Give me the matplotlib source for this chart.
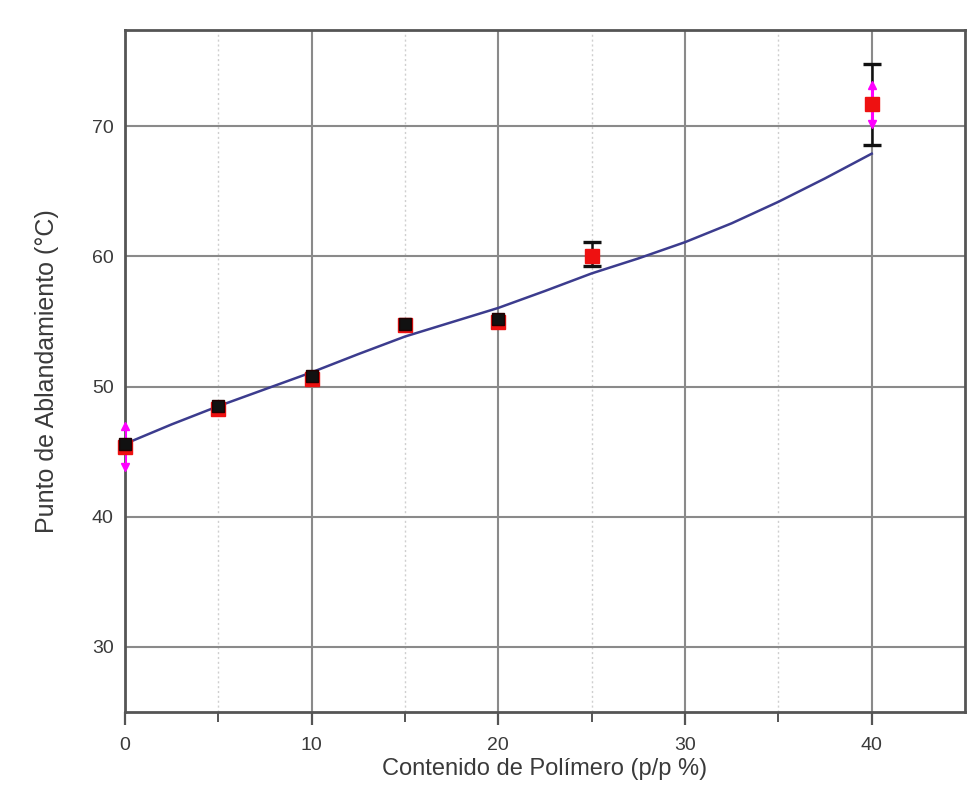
import matplotlib
matplotlib.use("Agg")
import matplotlib.pyplot as plt

plt.rcParams['font.family'] = ['Liberation Sans', 'DejaVu Sans']

# Polymer content (% w/w)
contenido = [0, 5, 10, 15, 20, 25, 40]
# Softening point, series measured with black error bars
punto_negro = [45.6, 48.5, 50.8, 54.8, 55.2, 60.2, 71.7]
error_negro = [0.0, 0.0, 0.0, 0.0, 0.0, 0.9, 3.1]
# Softening point, series with magenta error bars
punto_rojo = [45.4, 48.3, 50.6, 54.7, 55.0, 60.0, 71.7]
error_magenta = [1.6, 0.0, 0.0, 0.0, 0.0, 0.0, 1.5]

# Fitted trend curve
curva_x = [0, 2.5, 5, 7.5, 10, 12.5, 15, 17.5, 20, 22.5, 25, 27.5, 30,
           32.5, 35, 37.5, 40]
curva_y = [45.6, 47.1, 48.5, 49.8, 51.1, 52.5, 53.85, 54.95, 56.05, 57.35,
           58.7, 59.85, 61.1, 62.55, 64.2, 66.0, 67.9]

x_ticks = [0, 10, 20, 30, 40]
y_ticks = [30, 40, 50, 60, 70]

fig = plt.figure(figsize=(9.74, 7.90), dpi=100)
ax = fig.add_axes([0.1283, 0.0987, 0.8625, 0.8633])

ax.set_xlim(0, 45)
ax.set_ylim(25, 77.4)

ax.set_xticks(x_ticks)
ax.set_xticks([5, 15, 25, 35], minor=True)
ax.set_yticks(y_ticks)

ax.grid(True, which='major', color='#8a8a8a', linewidth=1.5, zorder=0)
ax.grid(True, which='minor', axis='x', color='#cfcfcf', linewidth=1.0,
        linestyle=(0, (1.5, 2)), zorder=0)
ax.set_axisbelow(True)

for s in ax.spines.values():
    s.set_linewidth(2.0)
    s.set_color('#555555')

ax.tick_params(axis='x', which='major', direction='out', length=9, width=1.6,
               color='#555555', labelsize=14, labelcolor='#3a3a3a', pad=9)
ax.tick_params(axis='x', which='minor', direction='out', length=7, width=1.4,
               color='#555555')
ax.tick_params(axis='y', which='major', direction='out', length=0,
               labelsize=14, labelcolor='#3a3a3a', pad=8)

# Trend curve
ax.plot(curva_x, curva_y, color='#3c3c8e', linewidth=1.8, zorder=3)

# Black error bars
idx_n = [i for i, e in enumerate(error_negro) if e > 0]
ax.errorbar([contenido[i] for i in idx_n], [punto_negro[i] for i in idx_n],
            yerr=[error_negro[i] for i in idx_n], fmt='none', ecolor='#111111',
            elinewidth=1.8, capsize=6.5, capthick=2.4, zorder=4)

# Magenta error bars with arrow-like ends
ax.errorbar(contenido, punto_rojo, yerr=error_magenta, fmt='none',
            ecolor='#ff00ff', elinewidth=2.2, capsize=0, zorder=5)
idx_m = [i for i, e in enumerate(error_magenta) if e > 0]
ax.plot([contenido[i] for i in idx_m],
        [punto_rojo[i] + error_magenta[i] for i in idx_m],
        linestyle='none', marker='^', color='#ff00ff', markersize=6, zorder=5,
        clip_on=False)
ax.plot([contenido[i] for i in idx_m],
        [punto_rojo[i] - error_magenta[i] for i in idx_m],
        linestyle='none', marker='v', color='#ff00ff', markersize=6, zorder=5,
        clip_on=False)

# Red squares
ax.plot(contenido, punto_rojo, linestyle='none', marker='s', markersize=9.5,
        color='#ee1111', markeredgecolor='#ee1111', zorder=6, clip_on=False)
# Black squares
ax.plot(contenido[:5], punto_negro[:5], linestyle='none', marker='s',
        markersize=8, color='#111111', markeredgecolor='#220000', zorder=7,
        clip_on=False)

ax.set_xlabel('Contenido de Polímero (p/p %)', fontsize=17, color='#3a3a3a',
              labelpad=3)
ax.set_ylabel('Punto de Ablandamiento (°C)', fontsize=18, color='#3a3a3a',
              labelpad=24)

fig.savefig('out.png', dpi=100)
